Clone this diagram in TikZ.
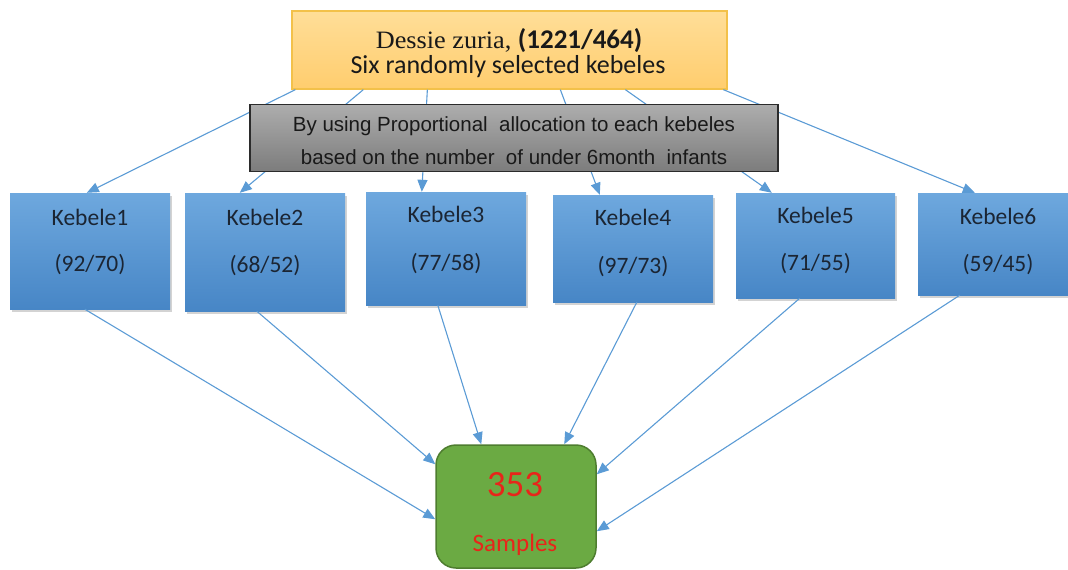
\documentclass[tikz,border=0pt]{standalone}
\usepackage{fontspec}
\setmainfont{Carlito}
\newfontfamily\timesf{Liberation Serif}[FakeStretch=1.05]
\newfontfamily\arialf{Liberation Sans}
\usetikzlibrary{arrows.meta,shadows,calc}
\definecolor{arrowc}{HTML}{5B9BD5}
\definecolor{kbt}{HTML}{6EA8DE}
\definecolor{kbb}{HTML}{4786C6}
\definecolor{ktc}{HTML}{1B2533}
\definecolor{topt}{HTML}{FFDE98}
\definecolor{topb}{HTML}{FFCD6E}
\definecolor{topd}{HTML}{F3C14A}
\definecolor{grt}{HTML}{ADADAD}
\definecolor{grb}{HTML}{7C7C7C}
\definecolor{grd}{HTML}{2B2B2B}
\definecolor{gfill}{HTML}{6BAA43}
\definecolor{gdraw}{HTML}{4E7D2F}
\definecolor{redt}{HTML}{E8251A}
\begin{document}
\begin{tikzpicture}[x=1pt,y=-1pt,
  conn/.style={draw=arrowc, line width=1.1pt, -{Triangle[length=12pt,width=10pt]}},
  kbox/.style={minimum width=160pt, inner sep=0, top color=kbt, bottom color=kbb, draw=none,
    drop shadow={opacity=0.35, shadow xshift=1.5pt, shadow yshift=-2.5pt}},
  ktext/.style={font=\fontsize{23.5}{26}\selectfont, text=ktc, inner sep=0},
  topbox/.style={inner sep=0, top color=topt, bottom color=topb, draw=topd, line width=1.3pt},
  graybox/.style={inner sep=0, top color=grt, bottom color=grb, draw=grd, line width=1.3pt},
  greenbox/.style={inner sep=0, fill=gfill, draw=gdraw, line width=1.5pt, rounded corners=20pt},
  plain/.style={inner sep=0}
]
\useasboundingbox (0,0) rectangle (1068,570);
\clip (0,0) rectangle (1068,570);

% top box
\node[topbox, minimum width=435pt, minimum height=78pt] (top) at (509.5,50) {};
\node[plain, text=black!90] (t1) at (509,41) {\fontsize{25}{25}\timesf Dessie zuria, \fontsize{27}{27}\rmfamily\bfseries (1221/464)};
\node[plain, text=black!90] (t2) at (508,67) {\fontsize{26}{26}\selectfont Six randomly selected kebeles};

% kebele boxes
\node[kbox, minimum height=116pt] (k1) at (90,251) {};
\node[kbox, minimum height=118pt] (k2) at (265,252) {};
\node[kbox, minimum height=113pt] (k3) at (446,248.5) {};
\node[kbox, minimum height=107pt] (k4) at (633,248.5) {};
\node[kbox, minimum height=105pt, minimum width=159pt] (k5) at (815.5,245.5) {};
\node[kbox, minimum height=102pt] (k6) at (998,244) {};

\node[ktext] (k1a) at (90,217) {Kebele1};
\node[ktext] (k1b) at (90,265) {(92/70)};
\node[ktext] (k2a) at (265,217) {Kebele2};
\node[ktext] (k2b) at (265,266) {(68/52)};
\node[ktext] (k3a) at (446,214) {Kebele3};
\node[ktext] (k3b) at (446,264) {(77/58)};
\node[ktext] (k4a) at (633,217) {Kebele4};
\node[ktext] (k4b) at (633,267) {(97/73)};
\node[ktext] (k5a) at (815.5,215) {Kebele5};
\node[ktext] (k5b) at (815.5,264) {(71/55)};
\node[ktext] (k6a) at (998,216) {Kebele6};
\node[ktext] (k6b) at (998,265) {(59/45)};

% arrows top -> kebeles
\draw[conn] ([xshift=4pt]top.south west) -- ([xshift=77pt]k1.north west);
\draw[conn] ([xshift=72pt]top.south west) -- ([xshift=55pt]k2.north west);
\draw[conn] ([xshift=136pt]top.south west) -- ([xshift=56pt]k3.north west);
\draw[conn] ([xshift=269pt]top.south west) -- ([xshift=47pt]k4.north west);
\draw[conn] ([xshift=334pt]top.south west) -- ([xshift=36pt]k5.north west);
\draw[conn] ([xshift=432pt]top.south west) -- ([xshift=57pt]k6.north west);

% gray box
\node[graybox, minimum width=528pt, minimum height=67pt] (gray) at (514,138) {};
\node[plain, text=black!90] (g1) at (514,126) {\arialf\fontsize{20.5}{24}\selectfont By using Proportional\ \ allocation to each\ kebeles};
\node[plain, text=black!90] (g2) at (514,157) {\arialf\fontsize{20.5}{24}\selectfont based\ on the number\ \ of under 6month\ \ infants};

% green box
\node[greenbox, minimum width=160pt, minimum height=123pt] (g) at (516,506.5) {};
\node[plain, text=redt] (n353) at (515,485) {\fontsize{37}{37}\selectfont 353};
\node[plain, text=redt] (smp) at (515,545) {\fontsize{25}{25}\selectfont Samples};

% arrows kebeles -> samples
\draw[conn] ([xshift=75pt]k1.south west) -- ([yshift=-75pt]g.north west);
\draw[conn] ([xshift=72pt]k2.south west) -- ([yshift=-20pt]g.north west);
\draw[conn] ([xshift=72pt]k3.south west) -- ([xshift=46pt]g.north west);
\draw[conn] ([xshift=84pt]k4.south west) -- ([xshift=129pt]g.north west);
\draw[conn] ([xshift=64pt]k5.south west) -- ([yshift=-30pt]g.north east);
\draw[conn] ([xshift=42pt]k6.south west) -- ([yshift=-87pt]g.north east);
\end{tikzpicture}
\end{document}
